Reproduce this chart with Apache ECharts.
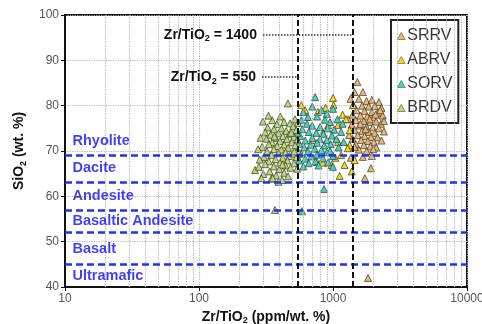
<!DOCTYPE html>
<html><head><meta charset="utf-8">
<script src="https://cdn.jsdelivr.net/npm/echarts@6/dist/echarts.min.js"></script>
<style>html,body{margin:0;padding:0;background:#fff}#c{width:482px;height:324px}</style>
</head><body><div id="c"></div>
<script>
const seriesNames = ['SRRV', 'ABRV', 'SORV', 'BRDV'];
const seriesColors = ['#EDB66A', '#F0DC10', '#3FD6C2', '#BCDB6E'];

// [Zr/TiO2 (ppm/wt.%), SiO2 (wt.%)]
const SRRV = [[1520,85.2],[1450,83.0],[1670,83.0],[1560,81.5],[1780,81.0],[1950,81.3],[2200,80.8],[1420,80.2],[1650,80.0],[1850,79.8],[2050,79.9],[2300,79.5],[1500,79.0],[1720,78.8],[1950,78.6],[2150,78.4],[1400,78.0],[1600,77.8],[1800,77.6],[2000,77.5],[2350,77.8],[1480,76.8],[1700,76.6],[1900,76.4],[2100,76.5],[2280,76.0],[1380,75.8],[1580,75.6],[1780,75.3],[1980,75.2],[2200,75.0],[1450,74.6],[1650,74.4],[1850,74.2],[2050,74.0],[2400,74.3],[1530,73.5],[1720,73.3],[1920,73.1],[2150,73.0],[1400,72.7],[1620,72.4],[1820,72.2],[2020,72.0],[2300,72.3],[1480,71.5],[1700,71.3],[1900,71.0],[2100,70.8],[1560,70.3],[1780,70.0],[2000,70.4],[1450,70.9],[1670,68.7],[1950,68.9],[1920,66.2],[1730,64.0],[1825,42.0],[1360,68.5],[1350,81.5],[2250,79.0],[1600,76.0],[2080,78.0],[1880,77.0],[1300,77.0],[1320,73.5],[2400,76.6],[1750,74.8]];
const ABRV = [[580,80.1],[1000,81.7],[1010,80.1],[1410,80.1],[770,78.6],[1090,75.7],[1330,74.6],[840,74.0],[1330,71.3],[1150,69.1],[975,66.9],[1450,68.0],[1220,66.9],[1180,78.0],[920,75.7],[1090,72.0],[1040,68.5],[840,67.4],[760,67.6],[710,72.4],[1290,70.6],[620,79.0],[1250,77.0],[880,79.5],[1380,65.5],[1120,64.5]];
const SORV = [[735,81.9],[650,77.5],[600,78.6],[820,79.0],[700,79.8],[900,78.2],[1000,79.3],[580,76.8],[760,77.6],[870,76.9],[640,76.0],[950,76.4],[1080,77.0],[700,75.6],[800,75.3],[590,74.8],[910,75.0],[1020,74.7],[660,74.2],[750,74.0],[850,73.8],[1150,74.2],[570,73.3],[980,73.4],[700,72.9],[800,72.6],[620,72.3],[900,72.4],[1060,72.6],[760,71.8],[560,71.6],[680,71.4],[860,71.2],[960,71.5],[610,70.8],[730,70.5],[820,70.2],[1100,70.8],[650,69.9],[900,69.7],[580,69.4],[760,69.2],[690,68.8],[1000,68.9],[620,68.3],[840,68.4],[560,67.9],[740,67.7],[660,67.3],[920,67.5],[1000,66.5],[780,66.8],[600,66.6],[857,61.6],[587,56.7],[540,74.0],[530,70.0],[1180,76.0],[1200,72.0],[950,70.0]];
const BRDV = [[461,80.5],[405,77.6],[520,77.0],[352,76.8],[432,76.4],[382,75.9],[478,76.1],[325,75.2],[505,75.5],[362,74.8],[412,75.0],[447,74.4],[532,74.6],[312,74.1],[392,73.9],[342,73.6],[472,73.7],[422,73.3],[512,73.1],[372,72.9],[318,72.7],[452,72.6],[542,72.5],[402,72.2],[352,71.9],[492,71.9],[332,71.5],[432,71.4],[382,71.1],[522,71.2],[296,70.9],[462,70.7],[362,70.4],[412,70.3],[546,70.1],[322,69.9],[442,69.7],[392,69.5],[502,69.4],[347,69.1],[472,68.9],[305,68.7],[422,68.5],[532,68.6],[372,68.2],[457,67.9],[332,67.7],[402,67.4],[512,67.3],[312,67.1],[442,66.8],[362,66.6],[482,66.3],[262,65.8],[397,66.0],[337,65.5],[432,65.2],[302,64.9],[377,64.6],[462,64.4],[347,63.9],[417,63.6],[292,64.0],[392,63.2],[369,57.0],[284,68.1],[276,70.4],[288,72.9],[548,76.2],[540,66.1],[300,76.5],[330,77.8],[366,73.2],[488,74.0],[420,67.0],[355,64.0],[280,66.5],[515,69.9]];
const seriesData = [SRRV, ABRV, SORV, BRDV];

const zoneNames = ['Rhyolite', 'Dacite', 'Andesite', 'Basaltic Andesite', 'Basalt', 'Ultramafic'];
const zoneLabelSiO2 = [72.3, 66.2, 60.0, 54.6, 48.4, 42.4];
const zoneBoundaries = [69, 63, 57, 52, 45];
const ratioLines = [550, 1400];
const ratioLabelSiO2 = [86.3, 95.6];
const ratioLabelStartX = [295, 300];
const xTickLabels = [10, 100, 1000, 10000];
const yTickLabels = [40, 50, 60, 70, 80, 90, 100];

const FONT = 'Liberation Sans, Arial, Helvetica, sans-serif';
const richSub = {
  a: { fontFamily: FONT, fontWeight: 'bold', fontSize: 14, color: '#111', lineHeight: 17 },
  s: { fontFamily: FONT, fontWeight: 'bold', fontSize: 9, color: '#111', verticalAlign: 'bottom', lineHeight: 10 }
};

// minor log grid lines (2..9 in each decade)
const minorGrid = [];
for (let d = 10; d < 10000; d *= 10) for (let k = 2; k <= 9; k++) minorGrid.push({ xAxis: k * d });

const chart = echarts.init(document.getElementById('c'), null, { renderer: 'canvas' });

const scatterSeries = seriesNames.map((n, i) => ({
  name: n, type: 'scatter', data: seriesData[i], symbol: 'triangle', symbolSize: 7, z: 3,
  itemStyle: { color: seriesColors[i], borderColor: '#333', borderWidth: 0.7, opacity: 1 }
}));

const option = {
  animation: false,
  textStyle: { fontFamily: FONT },
  grid: { left: 65, right: 15, top: 15, bottom: 37, outerBoundsMode: 'none', containLabel: false,
    show: true, borderColor: '#111', borderWidth: 2, backgroundColor: 'transparent' },
  xAxis: {
    type: 'log', logBase: 10, min: xTickLabels[0], max: xTickLabels[xTickLabels.length - 1],
    name: '{a|Zr/TiO}{s|2}{a| (ppm/wt. %)}', nameLocation: 'middle', nameGap: 15,
    nameTextStyle: { rich: richSub },
    axisLine: { lineStyle: { color: '#111', width: 2 } },
    axisTick: { show: true, length: 4, lineStyle: { color: '#111' } },
    axisLabel: { color: '#555', fontSize: 12, margin: 6, formatter: v => String(Math.round(v)) },
    splitLine: { show: true, lineStyle: { color: '#b5b5b5', type: 'dotted', width: 1.2 } }
  },
  yAxis: {
    type: 'value', min: 40, max: 100, interval: 10,
    name: '{a|SiO}{s|2}{a| (wt. %)}', nameLocation: 'middle', nameGap: 32,
    nameTextStyle: { rich: richSub },
    axisLine: { show: true, lineStyle: { color: '#111', width: 2 } },
    axisTick: { show: true, length: 4, lineStyle: { color: '#111' } },
    axisLabel: { color: '#555', fontSize: 12, margin: 6 },
    splitLine: { show: true, lineStyle: { color: '#b5b5b5', type: 'dotted', width: 1.2 } }
  },
  legend: {
    data: seriesNames, orient: 'vertical', left: 391, top: 20,
    padding: [8, 6, 7, 6], itemGap: 8, itemWidth: 8, itemHeight: 7, icon: 'triangle',
    itemStyle: { borderWidth: 0.5 },
    borderColor: '#222', borderWidth: 2, backgroundColor: '#fff',
    textStyle: { fontSize: 16, color: '#333', padding: [0, 0, 0, -3] }
  },
  series: [
    {
      name: 'minorgrid', type: 'scatter', data: [], silent: true, z: 1,
      markLine: { silent: true, symbol: 'none', label: { show: false },
        lineStyle: { color: '#b5b5b5', type: 'dotted', width: 1.2 }, data: minorGrid }
    },
    ...scatterSeries,
    {
      name: 'zones', type: 'scatter', silent: true, z: 6, symbolSize: 1,
      data: zoneNames.map((n, i) => ({ name: n, value: [10.9, zoneLabelSiO2[i]] })),
      itemStyle: { color: 'rgba(0,0,0,0)' },
      label: { show: true, position: 'right', distance: 2, formatter: '{b}', color: '#1010F0', fontWeight: 'bold', fontSize: 14.5, fontFamily: FONT },
      markLine: {
        silent: true, symbol: 'none', label: { show: false },
        lineStyle: { color: '#2233EE', type: [7, 4], width: 2.5 },
        data: zoneBoundaries.map(v => ({ yAxis: v }))
      }
    },
    {
      name: 'ratios', type: 'scatter', data: [], silent: true, z: 7,
      markLine: {
        silent: true, symbol: 'none',
        data: [
          ...ratioLines.map(v => ({ xAxis: v, label: { show: false }, lineStyle: { color: '#111', type: [6, 3], width: 2 } })),
          ...ratioLines.map((v, i) => [
            { coord: [ratioLabelStartX[i], ratioLabelSiO2[i]],
              label: { show: true, position: 'start', distance: 6, formatter: '{a|Zr/TiO}{s|2}{a| = ' + v + '}', rich: richSub } },
            { coord: [v, ratioLabelSiO2[i]] }
          ])
        ],
        lineStyle: { color: '#333', type: 'dotted', width: 1.5 }
      }
    }
  ]
};
chart.setOption(option);
</script></body></html>
